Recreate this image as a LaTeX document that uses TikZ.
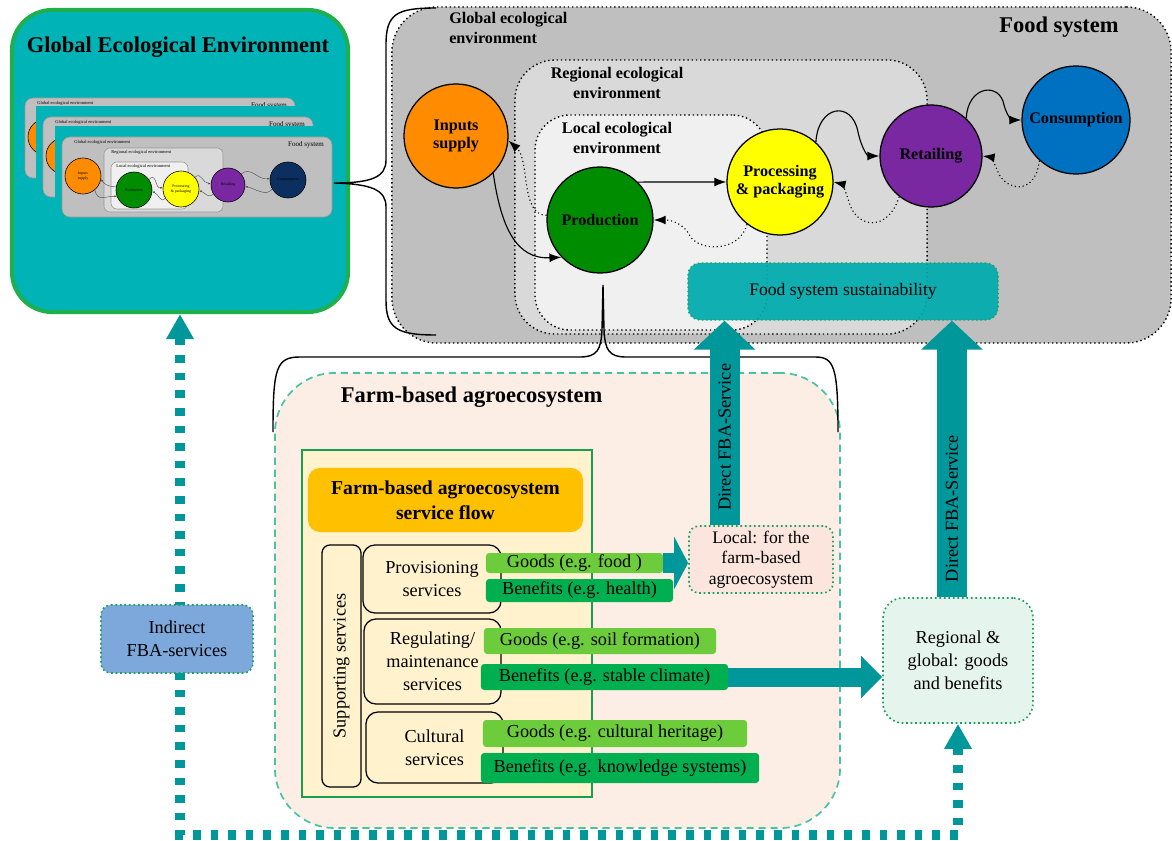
\documentclass[tikz,border=0pt]{standalone}
\usepackage{fontspec}
\setmainfont{Liberation Serif}
\usetikzlibrary{arrows.meta,calc}
\definecolor{geeteal}{HTML}{00B3B6}
\definecolor{geegreen}{HTML}{1EB04C}
\definecolor{fsgray}{HTML}{BFBFBF}
\definecolor{reggray}{HTML}{D9D9D9}
\definecolor{locgray}{HTML}{F0F0F0}
\definecolor{inporange}{HTML}{FF8C00}
\definecolor{prodgreen}{HTML}{008C00}
\definecolor{procyellow}{HTML}{FFFF00}
\definecolor{retpurple}{HTML}{7A28A2}
\definecolor{consblue}{HTML}{0070C0}
\definecolor{thumbnavy}{HTML}{0B2F5E}
\definecolor{flowteal}{HTML}{00979B}
\definecolor{fssteal}{HTML}{00ABAD}
\definecolor{farmfill}{HTML}{FCEEE5}
\definecolor{farmline}{HTML}{48C3A2}
\definecolor{flowfill}{HTML}{FFF2CC}
\definecolor{flowline}{HTML}{18A050}
\definecolor{titleorange}{HTML}{FFC000}
\definecolor{goodsgreen}{HTML}{6CCC3C}
\definecolor{benefgreen}{HTML}{00B050}
\definecolor{dotgreen}{HTML}{1FA060}
\definecolor{localfill}{HTML}{FBE5DC}
\definecolor{regfill}{HTML}{E6F4EE}
\definecolor{indfill}{HTML}{7DA8DC}
\tikzset{
  bodytext/.style={font=\fontsize{13}{16.5}\selectfont, align=center},
  bigtitle/.style={font=\fontsize{16}{19}\selectfont\bfseries},
  envlabel/.style={font=\fontsize{11.5}{14}\selectfont\bfseries, align=center},
  envbox/.style={draw=black, dotted, line width=1pt},
  fcircle/.style={circle, draw=black, line width=0.9pt, inner sep=0pt,
    font=\fontsize{11.5}{13}\selectfont\bfseries, align=center},
  flowarrow/.style={line width=0.8pt, -{Latex[length=0.3cm,width=0.22cm]}},
  backarrow/.style={flowarrow, dotted},
  bracestyle/.style={line width=1pt, draw=black},
  thumbtext/.style={font=\fontsize{3.2}{4}\selectfont, inner sep=0pt},
  thumbcircle/.style={circle, draw=black, line width=0.4pt, inner sep=0pt,
    minimum size=0.9cm, font=\fontsize{2.8}{3.2}\selectfont, align=center},
  thumbarrow/.style={draw=black!70, line width=0.3pt, -{Latex[length=0.06cm,width=0.05cm]}},
  servbox/.style={draw=black, line width=0.9pt, fill=flowfill, rounded corners=0.3cm, bodytext},
  goods/.style={fill=goodsgreen, rounded corners=0.08cm, inner sep=0pt, bodytext},
  benef/.style={fill=benefgreen, rounded corners=0.08cm, inner sep=0pt, bodytext},
  dotbox/.style={draw=dotgreen, dotted, line width=1.2pt, bodytext},
  fatarrow/.style n args={3}{draw=flowteal, line width=#1, -{Triangle[length=#2, width=#3]}},
  arrowlabel/.style={rotate=90, bodytext},
  dotflow/.style={draw=flowteal, line width=0.24cm, dash pattern=on 0.19cm off 0.25cm,
    {Triangle[length=0.625cm,width=0.65cm]}-{Triangle[length=0.625cm,width=0.65cm]}}
}
\begin{document}
\begin{tikzpicture}[x=0.025cm, y=-0.025cm]
\useasboundingbox (0,0) rectangle (1172,841);

\node[draw=geegreen, fill=geeteal, line width=0.1cm, rounded corners=1cm,
  minimum width=8.4cm, minimum height=7.55cm] (gee) at (180,161) {};
\node[bigtitle, anchor=west] (geetitle) at (22,47) {Global Ecological Environment};

\foreach \i/\tx/\ty in {0/25/98, 1/43/117}
{
  \begin{scope}[shift={(\tx,\ty)}]
    \ifnum\i>0 \fill[geeteal] (-7,-11) rectangle (277,87); \fi
    \draw[fill=fsgray, draw=black!40, rounded corners=0.2cm] (0,0) rectangle (270,80);
    \node[thumbtext, anchor=west] (th\i-glob) at (12,5) {Global ecological environment};
    \node[thumbtext, font=\fontsize{5}{6}\selectfont] (th\i-fs) at (244,8) {Food system};
    \node[thumbcircle, fill=inporange] (th\i-inp) at (21,39) {};
  \end{scope}
}
\begin{scope}[shift={(62,137)}]
  \fill[geeteal] (-7,-11) rectangle (277,87);
  \draw[fill=fsgray, draw=black!40, rounded corners=0.2cm] (0,0) rectangle (270,80);
  \draw[fill=reggray, draw=black!40, rounded corners=0.15cm] (42,11) rectangle (161,75);
  \draw[fill=locgray, draw=black!40, rounded corners=0.15cm] (49,25) rectangle (126,72);
  \node[thumbtext, anchor=west] (th2-glob) at (12,5) {Global ecological environment};
  \node[thumbtext, anchor=west] (th2-reg) at (49,15) {Regional ecological environment};
  \node[thumbtext, anchor=west] (th2-loc) at (54,29) {Local ecological environment};
  \node[thumbtext, font=\fontsize{5}{6}\selectfont] (th2-fs) at (244,8) {Food system};
  \node[thumbcircle, fill=inporange] (th2-inp) at (21,39) {Inputs\\supply};
  \node[thumbcircle, fill=prodgreen] (th2-prod) at (72,53) {Production};
  \node[thumbcircle, fill=procyellow] (th2-proc) at (119,52) {Processing\\\& packaging};
  \node[thumbcircle, fill=retpurple, minimum size=0.85cm] (th2-ret) at (166,48) {Retailing};
  \node[thumbcircle, fill=thumbnavy] (th2-cons) at (226,43) {Consumption};
  \draw[thumbarrow] (th2-inp.-50) .. controls +(3,12) and +(-12,0) .. (th2-prod.-160);
  \draw[thumbarrow] (th2-prod.170) .. controls +(-6,0) and +(4,6) .. (th2-inp.-10);
  \draw[thumbarrow] (th2-prod.35) .. controls +(8,-8) and +(-8,2) .. (th2-proc.175);
  \draw[thumbarrow] (th2-proc.-150) .. controls +(-4,6) and +(6,2) .. (th2-prod.-5);
  \draw[thumbarrow] (th2-proc.40) .. controls +(6,-6) and +(-8,0) .. (th2-ret.175);
  \draw[thumbarrow] (th2-ret.-150) .. controls +(-4,6) and +(6,2) .. (th2-proc.-5);
  \draw[thumbarrow] (th2-ret.40) .. controls +(10,-8) and +(-12,2) .. (th2-cons.175);
  \draw[thumbarrow] (th2-cons.-150) .. controls +(-6,8) and +(10,2) .. (th2-ret.-5);
\end{scope}

\node[envbox, fill=fsgray, rounded corners=1.125cm, minimum width=19.475cm, minimum height=8.4cm] (fs) at (781.5,175) {};
\node[envbox, fill=reggray, rounded corners=1cm, minimum width=10.3cm, minimum height=6.85cm] (regenv) at (721,197) {};
\node[envbox, fill=locgray, rounded corners=0.875cm, minimum width=5.8cm, minimum height=5.375cm] (locenv) at (651,222.5) {};
\node[envlabel, align=left, anchor=north west, inner sep=0pt] (globlab) at (449,12) {Global ecological\\environment};
\node[envlabel] (reglab) at (617,83) {Regional ecological\\environment};
\node[envlabel] (loclab) at (617,138) {Local ecological\\environment};
\node[bigtitle] (fstitle) at (1059,27) {Food system};

\node[fill=fssteal, fill opacity=0.93, text opacity=1, draw=dotgreen, dotted, line width=1pt,
  rounded corners=0.3cm, minimum width=7.75cm, minimum height=1.425cm,
  font=\fontsize{12.5}{14}\selectfont] (fss) at (843,291.5) {Food system sustainability};

\node[fcircle, fill=inporange, minimum size=2.6cm] (inp) at (456,136) {Inputs\\supply};
\node[fcircle, fill=prodgreen, minimum size=2.65cm] (prod) at (600,220) {Production};
\node[fcircle, fill=procyellow, minimum size=2.65cm] (proc) at (780,182) {Processing\\\& packaging};
\node[fcircle, fill=retpurple, minimum size=2.55cm] (ret) at (931,156) {Retailing};
\node[fcircle, fill=consblue, minimum size=2.7cm] (cons) at (1076,120) {Consumption};

\draw[flowarrow] (inp.-45) .. controls +(8,55) and +(-45,2) .. (prod.-136);
\draw[backarrow] (prod.175) .. controls (520,215) and (530,160) .. (inp.-5);
\draw[flowarrow] (prod.45) -- (proc.west);
\draw[backarrow] (proc.232) .. controls (740,252) and (700,252) .. (690,236) .. controls (684,224) and (672,220) .. (prod.east);
\draw[flowarrow] (proc.48) .. controls (818,105) and (852,100) .. (858,132) .. controls (862,150) and (868,156) .. (ret.west);
\draw[backarrow] (ret.232) .. controls (888,232) and (858,228) .. (850,205) .. controls (846,192) and (842,184) .. (proc.east);
\draw[flowarrow] (ret.47) .. controls (968,85) and (1000,82) .. (1004,105) .. controls (1007,116) and (1012,120) .. (cons.west);
\draw[backarrow] (cons.228) .. controls (1035,197) and (1005,190) .. (998,172) .. controls (994,162) and (990,157) .. (ret.east);

\coordinate (brtip) at (334,183);
\draw[bracestyle] (436,8) .. controls (396,8) and (386,14) .. (386,45) -- (386,160)
  .. controls (386,177) and (372,183) .. (brtip) .. controls (372,184) and (386,190) .. (386,207)
  -- (386,300) .. controls (386,328) and (396,335) .. (436,335);

\node[draw=farmline, fill=farmfill, dash pattern=on 0.18cm off 0.12cm, line width=1.2pt,
  rounded corners=1.5cm, minimum width=14.125cm, minimum height=11.375cm] (farm) at (557.5,600.5) {};
\node[bigtitle, anchor=west] (farmtitle) at (336,397) {Farm-based agroecosystem};

\coordinate (brtip2) at (603,285);
\draw[bracestyle] (273,432) .. controls (273,368) and (276,357) .. (300,357) -- (580,357)
  .. controls (597,357) and (601,350) .. (602,330) -- (brtip2) -- (604,330)
  .. controls (605,350) and (609,357) .. (626,357) -- (815,357)
  .. controls (834,357) and (838,366) .. (838,432);

\node[draw=flowline, fill=flowfill, line width=1pt, minimum width=7.25cm, minimum height=8.675cm] (flow) at (447,623.5) {};
\node[fill=titleorange, rounded corners=0.3cm, minimum width=6.875cm, minimum height=1.6cm,
  font=\fontsize{14}{18}\selectfont\bfseries, align=center] (flowtitle) at (445.5,500) {Farm-based agroecosystem\\service flow};
\node[servbox, rotate=90, minimum width=6.05cm, minimum height=0.975cm, rounded corners=0.2cm] (supp) at (341.5,666) {Supporting services};
\node[servbox, minimum width=3.45cm, minimum height=1.7cm] (prov) at (432,579) {Provisioning\\services};
\node[servbox, minimum width=3.425cm, minimum height=2.125cm] (regu) at (432.5,661.5) {Regulating/\\maintenance\\services};
\node[servbox, minimum width=3.425cm, minimum height=1.775cm] (cult) at (434.5,747.5) {Cultural\\services};

\node[goods, minimum width=4.425cm, minimum height=0.5cm] (gfood) at (574.5,563) {Goods (e.g. food )};
\node[benef, minimum width=4.675cm, minimum height=0.575cm] (bhealth) at (579.5,590.5) {Benefits (e.g. health)};
\node[goods, minimum width=5.8cm, minimum height=0.65cm] (gsoil) at (600,641) {Goods (e.g. soil formation)};
\node[benef, minimum width=6.175cm, minimum height=0.65cm] (bclimate) at (604.5,677) {Benefits (e.g. stable climate)};
\node[goods, minimum width=6.6cm, minimum height=0.675cm] (gheritage) at (615,733.5) {Goods (e.g. cultural heritage)};
\node[benef, minimum width=6.95cm, minimum height=0.75cm] (bknow) at (620,768) {Benefits (e.g. knowledge systems)};

\node[dotbox, fill=localfill, rounded corners=0.25cm, minimum width=3.6cm, minimum height=1.675cm,
  inner sep=1pt, font=\fontsize{12.5}{14.5}\selectfont] (local) at (761,559.5) {Local: for the\\farm-based\\agroecosystem};
\node[dotbox, fill=regfill, rounded corners=0.5cm, minimum width=3.75cm, minimum height=3.125cm] (reg) at (958,660.5) {Regional \&\\global: goods\\and benefits};

\coordinate (cl) at (180,835);
\coordinate (cr) at (958,835);
\draw[dotflow] (gee.south) -- (cl) -- (cr) -- (reg.south);
\node[dotbox, fill=indfill, rounded corners=0.25cm, minimum width=3.8cm, minimum height=1.7cm] (ind) at (177,639) {Indirect\\FBA-services};

\draw[fatarrow={0.5cm}{0.35cm}{1.3cm}] (gfood.east) -- (gfood.east -| local.west);
\draw[fatarrow={0.475cm}{0.525cm}{1.025cm}] (bclimate.east) -- (bclimate.east -| reg.west);
\coordinate (dloc) at ($(local.north west)!0.25!(local.north east)$);
\coordinate (dreg) at ($(reg.north west)!0.46!(reg.north east)$);
\draw[fatarrow={0.75cm}{0.725cm}{1.5cm}] (dloc) -- (dloc |- fss.south)
  node[arrowlabel, pos=0.43] (dlab1) {Direct FBA-Service};
\draw[fatarrow={0.75cm}{0.725cm}{1.5cm}] (dreg) -- (dreg |- fss.south)
  node[arrowlabel, pos=0.32] (dlab2) {Direct FBA-Service};
\end{tikzpicture}
\end{document}
